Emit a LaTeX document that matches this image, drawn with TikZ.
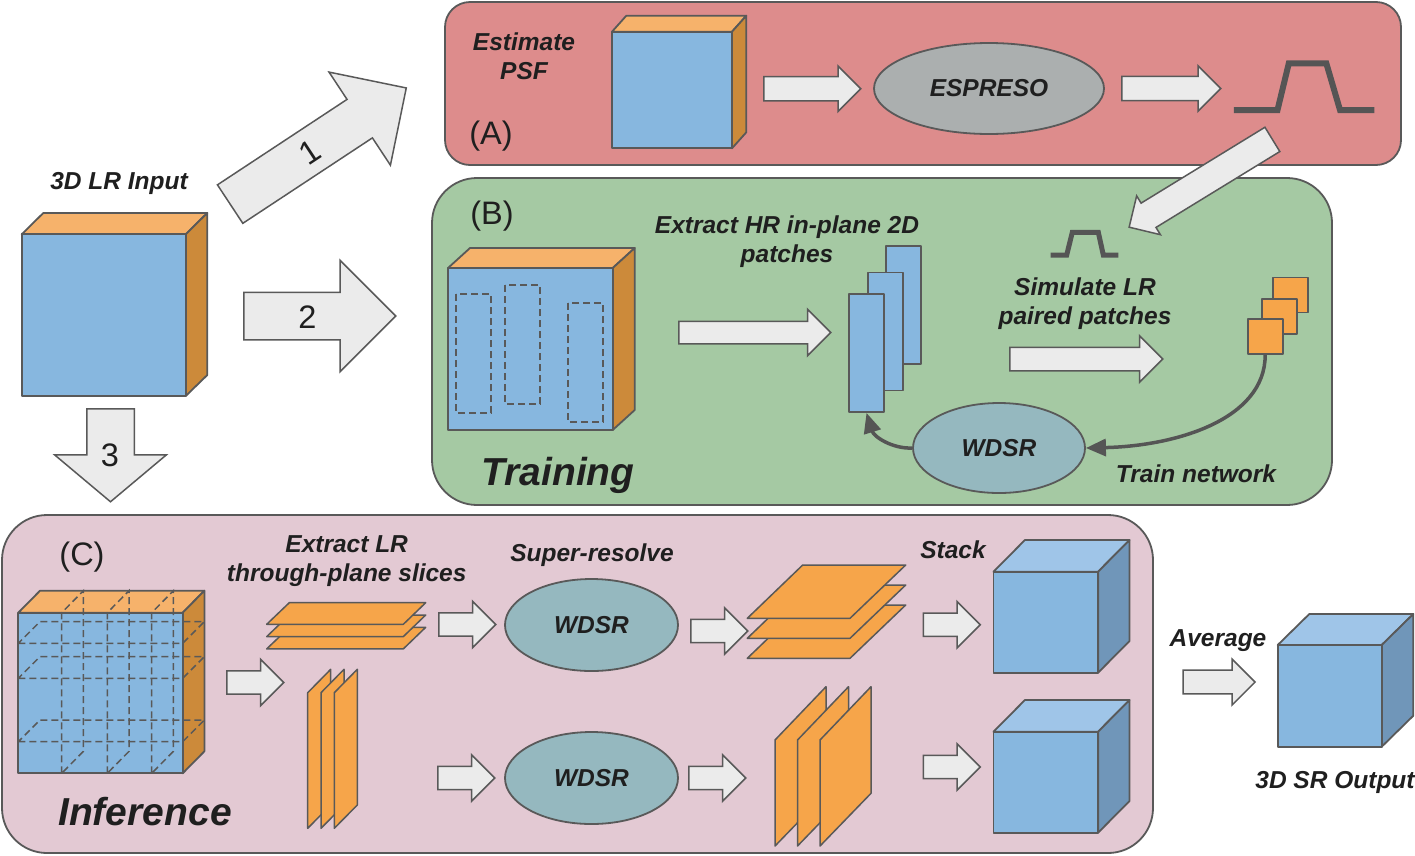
\documentclass[tikz,border=0pt]{standalone}
\usepackage{fontspec}
\setmainfont{Liberation Sans}
\usetikzlibrary{shapes.geometric,shapes.arrows,arrows.meta}

\definecolor{edge}{HTML}{595959}
\definecolor{ink}{HTML}{1F1F1F}
\definecolor{pale}{HTML}{EBEBEB}
\definecolor{front}{HTML}{87B7DF}
\definecolor{topor}{HTML}{F6B26B}
\definecolor{sideor}{HTML}{CC8A3A}
\definecolor{slab}{HTML}{F6A54A}
\definecolor{cubetop}{HTML}{9FC5E8}
\definecolor{cubeside}{HTML}{7096B9}
\definecolor{espreso}{HTML}{ABAFAF}
\definecolor{wdsr}{HTML}{95B8BF}
\definecolor{curve}{HTML}{555555}
\definecolor{panelA}{HTML}{DD8C8C}
\definecolor{panelB}{HTML}{A5C9A3}
\definecolor{panelC}{HTML}{E3C9D3}

\begin{document}
\begin{tikzpicture}[x=1pt, y=-1pt,
    face/.style={draw=edge, line width=1.8pt, line join=round},
    lbl/.style={text=ink, align=center, font=\fontsize{24.5}{29}\selectfont\bfseries\itshape},
    big/.style={text=ink, font=\fontsize{39}{44}\selectfont\bfseries\itshape},
    tag/.style={text=ink, font=\fontsize{32.5}{38}\selectfont},
    blob/.style={ellipse, face, inner sep=0pt},
    patch/.style={face, fill=front, inner sep=0pt, minimum width=35pt, minimum height=118pt},
    square/.style={face, fill=slab, inner sep=0pt, minimum size=35pt},
    slice/.style={face, fill=slab, line width=1.5pt},
    cut/.style={draw=edge, line width=1.5pt, dash pattern=on 7pt off 4pt},
    psf/.style={draw=curve, line width=6pt},
    link/.style={draw=curve, line width=3.5pt, -{Triangle[length=20pt,width=17pt]}},
    barrow/.style n args={3}{single arrow, draw=edge, fill=pale, line width=1.5pt,
        inner sep=0pt, anchor=tail, minimum height=#1, text height=#2, text depth=#2,
        single arrow head extend=#3}]

    \path[use as bounding box, fill=white] (0,0) rectangle (1415,855);

    % Panels
    \draw[face, fill=panelA, rounded corners=25pt] (445,2) rectangle (1401,165);
    \draw[face, fill=panelB, rounded corners=45pt] (432,178) rectangle (1332,505);
    \draw[face, fill=panelC, rounded corners=45pt] (2,515) rectangle (1153,853);

    % Input volume
    \node[lbl, anchor=base] (inlbl) at (119,189.5) {3D LR Input};
    \filldraw[face, fill=topor] (21.7,234.3) -- (43.3,213) -- (207.3,213) -- (185.7,234.3) -- cycle;
    \filldraw[face, fill=sideor] (185.7,234.3) -- (207.3,213) -- (207.3,375) -- (185.7,396) -- cycle;
    \filldraw[face, fill=front] (21.7,234.3) rectangle (185.7,396);

    % Arrows 1, 2, 3
    \node[barrow={211pt}{22.3pt}{32.7pt}, rotate=33.4] (go1) at (229.5,204.5) {};
    \node[barrow={152pt}{23pt}{32pt}] (go2) at (243,316) {};
    \node[barrow={93pt}{23pt}{32pt}, single arrow tip angle=100, rotate=-90] (go3) at (110.5,408) {};
    \node[tag, rotate=33.4] (n1) at (310,152.5) {1};
    \node[tag] (n2) at (307.5,316.7) {2};
    \node[tag] (n3) at (110,455.3) {3};

    % (A) Estimate PSF
    \node[tag] (tagA) at (491,136) {(A)};
    \node[lbl] (estlbl) at (524,56) {Estimate\\PSF};
    \filldraw[face, fill=topor] (612,31.7) -- (626.3,15.7) -- (746.3,15.7) -- (732,31.7) -- cycle;
    \filldraw[face, fill=sideor] (732,31.7) -- (746.3,15.7) -- (746.3,132.3) -- (732,148.3) -- cycle;
    \filldraw[face, fill=front] (612,31.7) rectangle (732,148.3);
    \node[barrow={97pt}{11.3pt}{10.7pt}] (a1) at (763,88.7) {};
    \node[blob, lbl, fill=espreso, minimum width=230pt, minimum height=91pt] (espreso) at (989,88.5) {ESPRESO};
    \node[barrow={99pt}{11.3pt}{10.7pt}] (a2) at (1121,88.5) {};
    \draw[psf] (1233.8,110) -- (1277.5,110) -- (1288.8,63.3) -- (1326.3,63.3) -- (1340,110) -- (1374.4,110);
    \node[barrow={168pt}{13.5pt}{8.5pt}, rotate=211.5] (down) at (1273,139) {};

    % (B) Training
    \node[tag] (tagB) at (492,216) {(B)};
    \filldraw[face, fill=topor] (448,268) -- (470,248) -- (634.7,248) -- (612.7,268) -- cycle;
    \filldraw[face, fill=sideor] (612.7,268) -- (634.7,248) -- (634.7,410) -- (612.7,430) -- cycle;
    \filldraw[face, fill=front] (448,268) rectangle (612.7,430);
    \foreach \x/\y in {456/294, 505/285, 568/303}
        \draw[cut] (\x,\y) rectangle ++(35,119);
    \node[big, anchor=base] (trainlbl) at (558,485) {Training};

    \node[lbl] (hrlbl) at (787,242) {Extract HR in-plane 2D\\patches};
    \node[barrow={152pt}{10.5pt}{12pt}] (b1) at (678,332.5) {};
    \node[patch] (hr1) at (903.5,305) {};
    \node[patch] (hr2) at (885.5,331.5) {};
    \node[patch] (hr3) at (866.5,353) {};

    \draw[psf, line width=5pt] (1050.7,255) -- (1066.7,255) -- (1072.3,232.3) -- (1098.3,232.3) -- (1103.3,255) -- (1118.3,255);
    \node[lbl] (simlbl) at (1085,303.5) {Simulate LR\\paired patches};
    \node[barrow={153pt}{11pt}{11.5pt}] (b2) at (1009,359) {};
    \node[square] (sq1) at (1290.5,295) {};
    \node[square] (sq2) at (1279.2,316.2) {};
    \node[square] (sq3) at (1265.2,336.7) {};

    \node[blob, lbl, fill=wdsr, minimum width=172pt, minimum height=90pt] (wdsrB) at (999,448) {WDSR};
    \draw[link] (sq3.south) .. controls (1265,420) and (1175,446) .. (wdsrB.east);
    \draw[link] (wdsrB.west) .. controls (893,449) and (874,437) .. (hr3.south);
    \node[lbl, anchor=base] (netlbl) at (1196,482) {Train network};

    % (C) Inference
    \node[tag] (tagC) at (82,557) {(C)};
    \filldraw[face, fill=topor] (18.3,612.7) -- (40,590.7) -- (204.4,590.7) -- (182.7,612.7) -- cycle;
    \filldraw[face, fill=sideor] (182.7,612.7) -- (204.4,590.7) -- (204.4,751.3) -- (182.7,773.3) -- cycle;
    \filldraw[face, fill=front] (18.3,612.7) rectangle (182.7,773.3);
    \foreach \x in {61.7,107.3,151.7}
        \draw[cut] (\x,773.3) -- (\x,612.7) -- ++(21.7,-22) -- ++(0,160.6) -- cycle;
    \foreach \y in {643.3,678.3,741.7}
        \draw[cut] (18.3,\y) -- (182.7,\y) -- ++(21.7,-21.7) -- ++(-164.4,0) -- cycle;
    \node[big, anchor=base] (inflbl) at (145,825) {Inference};

    \node[lbl] (lrlbl) at (346.7,561) {Extract LR\\through-plane slices};
    \foreach \d in {24.6,12.3,0}
        \filldraw[slice] (266.7,624.3+\d) -- (289.3,602.7+\d) -- (425.7,602.7+\d) -- (403.3,624.3+\d) -- cycle;
    \foreach \d in {0,13.3,26.6}
        \filldraw[slice] (307.7+\d,828.3) -- (307.7+\d,692.7) -- (330.7+\d,669.3) -- (330.7+\d,805) -- cycle;

    \foreach \x/\y/\n in {226/682.5/c0, 438/624.5/c1, 437/778/c2, 690/631/c3,
                          688/778/c4, 922.5/624.7/c5, 922.5/767/c6}
        \node[barrow={57pt}{10.8pt}{11.7pt}] (\n) at (\x,\y) {};

    \node[lbl, anchor=base] (srlbl) at (592,561) {Super-resolve};
    \node[blob, lbl, fill=wdsr, minimum width=173pt, minimum height=92pt] (wdsrC1) at (591.5,625) {WDSR};
    \node[blob, lbl, fill=wdsr, minimum width=173pt, minimum height=92pt] (wdsrC2) at (591.5,778) {WDSR};

    \foreach \d in {40,20,0}
        \filldraw[slice] (747.3,618.3+\d) -- (802.7,565+\d) -- (905.7,565+\d) -- (850,618.3+\d) -- cycle;
    \foreach \d in {0,22.5,45}
        \filldraw[slice] (775+\d,846) -- (775+\d,740) -- (826+\d,686.7) -- (826+\d,793.3) -- cycle;

    \node[lbl, anchor=base] (stacklbl) at (953,558) {Stack};
    \foreach \dy in {0,160} {
        \filldraw[face, fill=cubetop] (993.5,571.7+\dy) -- (1024.9,540+\dy) -- (1129.5,540+\dy) -- (1098.1,571.7+\dy) -- cycle;
        \filldraw[face, fill=cubeside] (1098.1,571.7+\dy) -- (1129.5,540+\dy) -- (1129.5,641+\dy) -- (1098.1,672.7+\dy) -- cycle;
        \filldraw[face, fill=front] (993.5,571.7+\dy) rectangle (1098.1,672.7+\dy);
    }

    % Output
    \node[lbl, anchor=base] (avglbl) at (1218,646) {Average};
    \node[barrow={72pt}{11.2pt}{11pt}] (avg) at (1182.3,682) {};
    \filldraw[face, fill=cubetop] (1277.7,645) -- (1309.3,614) -- (1413.3,614) -- (1381.7,645) -- cycle;
    \filldraw[face, fill=cubeside] (1381.7,645) -- (1413.3,614) -- (1413.3,715.7) -- (1381.7,746.7) -- cycle;
    \filldraw[face, fill=front] (1277.7,645) rectangle (1381.7,746.7);
    \node[lbl, anchor=base] (outlbl) at (1335,788) {3D SR Output};
\end{tikzpicture}
\end{document}
